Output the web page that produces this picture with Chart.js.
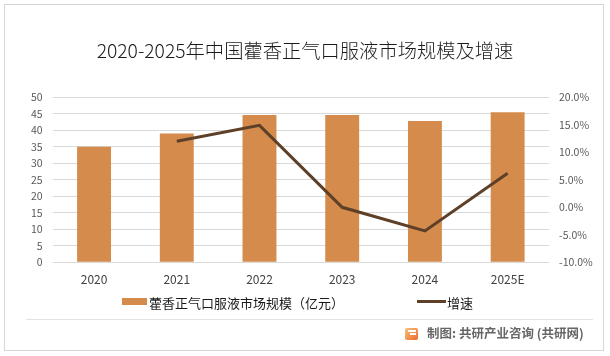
<!DOCTYPE html>
<html>
<head>
<meta charset="utf-8">
<script src="https://cdn.jsdelivr.net/npm/chart.js@4"></script>
<style>
html,body{margin:0;padding:0;background:#fff;}
#wrap{position:relative;width:610px;height:356px;overflow:hidden;font-family:"Noto Sans CJK SC","Noto Sans",sans-serif;}
#c{position:absolute;left:0;top:0;}
.abs{position:absolute;white-space:nowrap;}
#frame{left:4px;top:4px;width:598px;height:345px;border:1px solid #d6d6d6;}
#title{left:0;width:610px;top:37px;text-align:center;font-size:19.3px;font-weight:300;color:#1a1a1a;line-height:26px;}
#sep{left:26px;top:319px;width:567px;height:0;border-top:1px solid #e3e3e3;}
.lg{font-size:13px;color:#1a1a1a;line-height:18px;top:294px;}
#src{left:427px;top:324px;font-size:12.5px;font-weight:bold;color:#666;line-height:18px;}
#icon{left:405px;top:328px;width:13px;height:12px;border-radius:2px;background:linear-gradient(135deg,#f7c27a,#ec6a2c);}
#icon:after{content:"";position:absolute;left:5px;top:5px;width:6px;height:2px;background:#fff;}
#icon:before{content:"";position:absolute;left:3px;top:2px;width:8px;height:2px;background:#fff;}
</style>
</head>
<body>
<div id="wrap">
  <div id="frame" class="abs"></div>
  <canvas id="c" width="610" height="356"></canvas>
  <div id="title" class="abs">2020-2025年中国藿香正气口服液市场规模及增速</div>
  <div class="abs" style="left:122px;top:298px;width:25px;height:7px;background:#D48B4C;"></div>
  <div class="abs lg" style="left:149px;">藿香正气口服液市场规模（亿元）</div>
  <div class="abs" style="left:417px;top:300px;width:29px;height:3px;background:#5E4029;"></div>
  <div class="abs lg" style="left:447px;">增速</div>
  <div id="sep" class="abs"></div>
  <div id="icon" class="abs"></div>
  <div id="src" class="abs">制图: 共研产业咨询 (共研网)</div>
</div>
<script>
const categories = ["2020", "2021", "2022", "2023", "2024", "2025E"];
const marketSize = [35, 39, 44.6, 44.6, 42.8, 45.5];
const growthRate = [null, 12.0, 14.9, 0.0, -4.3, 6.2];
const leftTicks = [0, 50, 5];
const rightTicks = [-10, 20, 5];

const ctx = document.getElementById('c').getContext('2d');
new Chart(ctx, {
  data: {
    labels: categories,
    datasets: [
      {
        type: 'line',
        label: '增速',
        data: growthRate,
        yAxisID: 'y1',
        borderColor: '#5E4029',
        borderWidth: 3,
        pointRadius: 0,
        tension: 0,
        spanGaps: false,
        order: 0
      },
      {
        type: 'bar',
        label: '藿香正气口服液市场规模（亿元）',
        data: marketSize,
        yAxisID: 'y',
        backgroundColor: '#D48B4C',
        barPercentage: 0.41,
        categoryPercentage: 1.0,
        order: 1
      }
    ]
  },
  options: {
    responsive: false,
    animation: false,
    layout: { padding: { top: 97.3, left: 0, right: 0, bottom: 0 } },
    plugins: { legend: { display: false }, title: { display: false }, tooltip: { enabled: false } },
    scales: {
      x: {
        grid: { display: false, drawTicks: false },
        border: { display: false },
        ticks: { color: '#404040', font: { size: 12, family: '"Noto Sans CJK SC","Noto Sans",sans-serif' }, padding: 10 },
        afterFit: s => { s.height = 356 - 262.3; }
      },
      y: {
        position: 'left',
        min: leftTicks[0], max: leftTicks[1],
        ticks: { stepSize: leftTicks[2], color: '#595959', font: { size: 10.5, family: '"Noto Sans CJK SC","Noto Sans",sans-serif' }, padding: 10 },
        grid: { color: '#d9d9d9', lineWidth: 1, drawTicks: false },
        border: { display: false },
        afterFit: s => { s.width = 52.7; }
      },
      y1: {
        position: 'right',
        min: rightTicks[0], max: rightTicks[1],
        ticks: { stepSize: rightTicks[2], color: '#595959', font: { size: 10.5, family: '"Noto Sans CJK SC","Noto Sans",sans-serif' }, padding: 10,
          callback: v => v.toFixed(1) + '%' },
        grid: { display: false, drawTicks: false },
        border: { display: false },
        afterFit: s => { s.width = 61; }
      }
    }
  }
});
</script>
</body>
</html>
